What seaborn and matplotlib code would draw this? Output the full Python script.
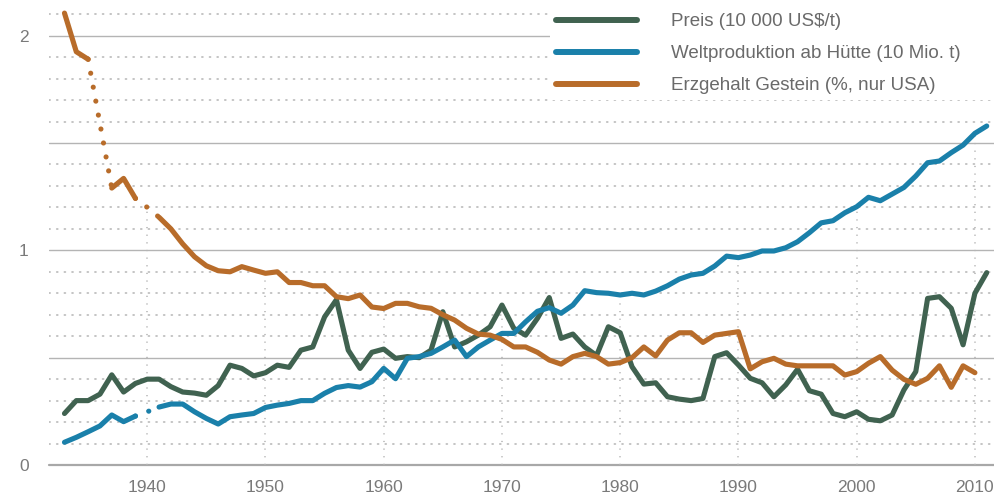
import numpy as np
import pandas as pd
import matplotlib
matplotlib.use("Agg")
import matplotlib.pyplot as plt
import seaborn as sns

# --- data ---
years = list(range(1933, 2012))

preis = [0.24, 0.30, 0.30, 0.33, 0.42, 0.34, 0.38, 0.40, 0.40, 0.365,
         0.34, 0.335, 0.325, 0.37, 0.465, 0.45, 0.415, 0.43, 0.465, 0.455,
         0.535, 0.55, 0.69, 0.77, 0.535, 0.45, 0.525, 0.54, 0.497, 0.505,
         0.50, 0.535, 0.714, 0.55, 0.574, 0.605, 0.644, 0.745, 0.637, 0.605,
         0.683, 0.78, 0.59, 0.61, 0.55, 0.51, 0.644, 0.616, 0.458, 0.377,
         0.383, 0.318, 0.307, 0.30, 0.31, 0.505, 0.523, 0.466, 0.404, 0.383,
         0.318, 0.373, 0.446, 0.346, 0.33, 0.24, 0.225, 0.248, 0.213, 0.206,
         0.233, 0.35, 0.435, 0.776, 0.784, 0.73, 0.56, 0.80, 0.896]

produktion = [0.106, 0.129, 0.155, 0.182, 0.233, 0.202, 0.228, 0.248, 0.27, 0.284,
              0.284, 0.248, 0.217, 0.191, 0.225, 0.233, 0.24, 0.268, 0.279, 0.287,
              0.30, 0.30, 0.334, 0.361, 0.37, 0.363, 0.388, 0.45, 0.402, 0.497,
              0.505, 0.52, 0.55, 0.582, 0.505, 0.55, 0.582, 0.613, 0.613, 0.667,
              0.716, 0.733, 0.707, 0.745, 0.812, 0.803, 0.80, 0.792, 0.80, 0.792,
              0.81, 0.835, 0.866, 0.885, 0.893, 0.927, 0.973, 0.966, 0.978, 0.997,
              0.997, 1.012, 1.04, 1.082, 1.128, 1.138, 1.175, 1.203, 1.247, 1.231,
              1.262, 1.293, 1.346, 1.408, 1.416, 1.455, 1.49, 1.545, 1.579]

erzgehalt = [2.105, 1.925, 1.89, np.nan, 1.29, 1.335, 1.242, 1.20, 1.154, 1.10,
             1.03, 0.97, 0.928, 0.905, 0.90, 0.924, 0.908, 0.893, 0.90, 0.85,
             0.85, 0.835, 0.835, 0.784, 0.775, 0.792, 0.736, 0.729, 0.753, 0.753,
             0.737, 0.73, 0.70, 0.675, 0.637, 0.61, 0.605, 0.585, 0.55, 0.55,
             0.525, 0.489, 0.47, 0.505, 0.52, 0.505, 0.47, 0.477, 0.50, 0.55,
             0.508, 0.582, 0.616, 0.616, 0.571, 0.605, 0.613, 0.621, 0.448, 0.481,
             0.497, 0.47, 0.462, 0.462, 0.462, 0.462, 0.419, 0.435, 0.474, 0.505,
             0.442, 0.399, 0.376, 0.404, 0.462, 0.362, 0.462, 0.43, np.nan]

labels = ["Preis (10 000 US$/t)",
          "Weltproduktion ab Hütte (10 Mio. t)",
          "Erzgehalt Gestein (%, nur USA)"]
colors = ["#406250", "#1a80aa", "#b86c2a"]
# year ranges drawn as a dotted line (gaps in the record)
dotted_spans = [[], [(1939, 1941)], [(1935, 1937), (1939, 1941)]]

df = pd.DataFrame({"Jahr": years, "preis": preis,
                   "produktion": produktion, "erzgehalt": erzgehalt})
series = ["preis", "produktion", "erzgehalt"]

sns.set_style("white")
plt.rcParams["font.family"] = ["Liberation Sans", "DejaVu Sans"]
plt.rcParams["lines.solid_capstyle"] = "round"
plt.rcParams["lines.dash_capstyle"] = "round"
plt.rcParams["lines.solid_joinstyle"] = "round"

fig = plt.figure(figsize=(9.95, 5.03), dpi=100)
ax = fig.add_axes([0.049, 0.0755, 0.951, 0.9245])

grid_col = "#b4b4b4"
text_col = "#7a7a7a"

# horizontal grid: solid every 0.5, dotted every 0.1
for k in range(1, 22):
    v = k / 10
    if k % 5 == 0:
        ax.axhline(v, color=grid_col, lw=1.0, zorder=1)
    else:
        ax.axhline(v, color=grid_col, lw=1.1, ls=(0, (0.8, 4.2)), zorder=1)
ax.axhline(0, color="#a8a8a8", lw=1.6, zorder=1, clip_on=False)

# vertical dotted lines at decades, up to the highest line
decades = list(range(1940, 2011, 10))
tops = df.set_index("Jahr").loc[decades, series].max(axis=1)
ax.vlines(decades, 0, tops.values, colors=grid_col, lw=1.1,
          linestyles=[(0, (0.8, 4.2))], zorder=1)

lw = 3.7
for col, lab, c, spans in zip(series, labels, colors, dotted_spans):
    s = df.set_index("Jahr")[col]
    # split into solid segments
    segs, cur = [], []
    for y in years:
        if np.isnan(s[y]):
            if cur:
                segs.append(cur)
            cur = []
            continue
        if cur and any(a <= cur[-1] and y <= b for a, b in spans):
            segs.append(cur)
            cur = []
        cur.append(y)
    if cur:
        segs.append(cur)
    first = True
    for seg in segs:
        if len(seg) < 2:
            continue
        sub = df[df["Jahr"].isin(seg)]
        sns.lineplot(data=sub, x="Jahr", y=col, color=c, lw=lw, ax=ax,
                     label=lab if first else None, zorder=3)
        first = False
    for a, b in spans:
        sub = df[(df["Jahr"] >= a) & (df["Jahr"] <= b)].dropna(subset=[col])
        sns.lineplot(data=sub, x="Jahr", y=col, color=c, lw=lw, ax=ax,
                     linestyle=(0, (0.01, 2.75)), zorder=3)

ax.set_xlim(1931.67, 2011.7)
ax.set_ylim(0, 2.166)
ax.set_xticks(decades)
ax.set_yticks([0, 1, 2])
ax.set_yticklabels(["0", "1", "2"])
ax.set_xlabel("")
ax.set_ylabel("")
ax.tick_params(axis="both", length=0, labelsize=12.5, colors=text_col)
ax.tick_params(axis="y", pad=14.5)
ax.tick_params(axis="x", pad=11)
sns.despine(ax=ax, left=True, bottom=True, top=True, right=True)

leg = ax.legend(loc="upper left",
                bbox_to_anchor=(550 / 995, 1 - 7 / 503, 445 / 995, 0),
                bbox_transform=fig.transFigure, mode="expand", fontsize=13.5,
                frameon=True, facecolor="white", edgecolor="none",
                framealpha=1.0, fancybox=False, borderpad=0.32,
                handlelength=4.3, handletextpad=1.85, labelspacing=0.8,
                borderaxespad=0)
for t in leg.get_texts():
    t.set_color("#6a6a6a")
for h in leg.get_lines():
    h.set_linewidth(4.3)

fig.savefig("out.png", dpi=100)
